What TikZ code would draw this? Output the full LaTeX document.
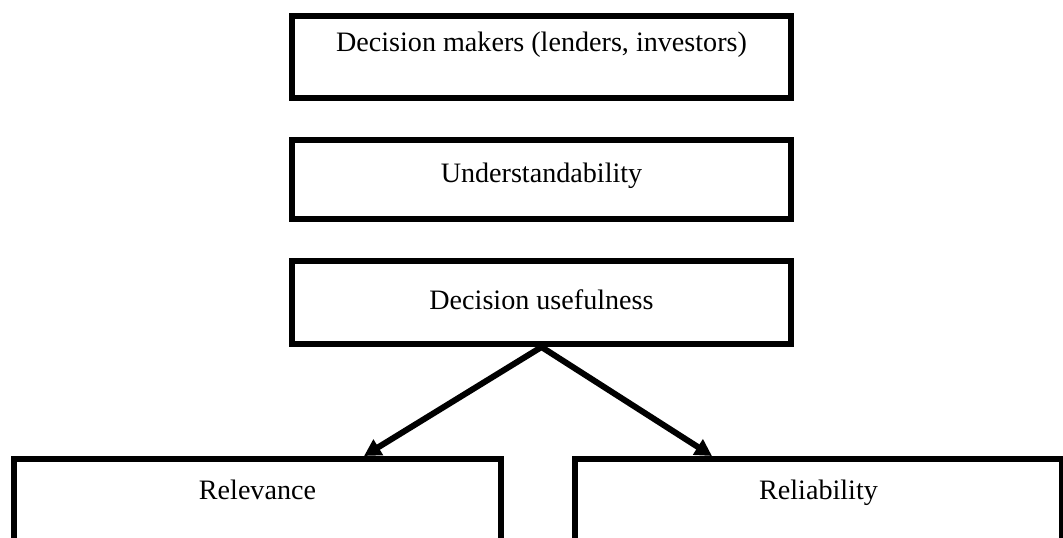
\documentclass[tikz,border=0pt]{standalone}
\usepackage{fontspec}
\setmainfont{Liberation Serif}
\usetikzlibrary{arrows.meta,positioning,calc}
\tikzset{
  >=Triangle,
  blk/.style={rectangle, draw, line width=0.15cm, inner sep=0pt, minimum width=12.475cm, font=\fontsize{20}{24}\selectfont},
  leaf/.style={blk, minimum width=12.175cm, text height=1.025cm, text depth=1.975cm},
  tr/.style={-{Triangle[length=0.42cm,width=0.44cm]}, line width=0.15cm}
}

\begin{document}
\begin{tikzpicture}[x=0.025cm, y=-0.025cm]
\useasboundingbox (0,0) rectangle (1063,538);

\node (dm) [blk, text height=0.9cm, text depth=1.15cm] at (541.5,57) {Decision makers (lenders, investors)};
\node (und) [blk, text height=1.05cm, text depth=0.925cm] at (541.5,179.5) {Understandability};
\node (du) [blk, text height=1.2cm, text depth=0.875cm] at (541.5,302.5) {Decision usefulness};

\node (rel) [leaf] at (257.5,519) {Relevance};
\node (rely) [leaf] at (818.5,519) {Reliability};

% arrow ends on the top edges
\coordinate (relin) at (364,456);
\coordinate (relyin) at (712,456);

\draw[tr] (du.south) -- (relin);
\draw[tr] (du.south) -- (relyin);

\end{tikzpicture}
\end{document}
